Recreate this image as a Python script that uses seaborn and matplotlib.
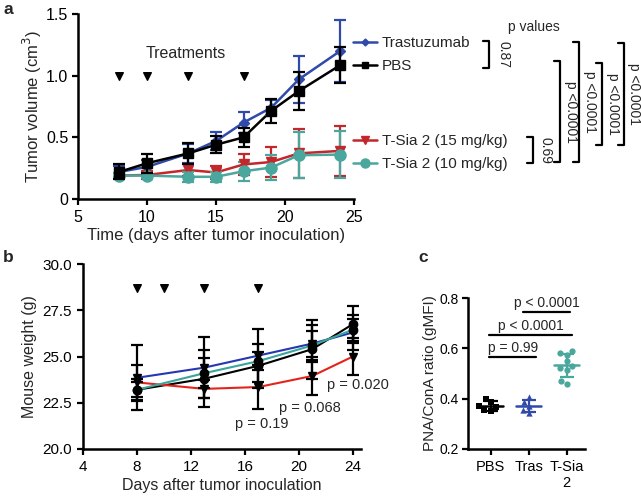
import numpy as np
import pandas as pd
import matplotlib
matplotlib.use("Agg")
import matplotlib.pyplot as plt
import seaborn as sns
from matplotlib.lines import Line2D

# ---------------------------------------------------------------
# data
# ---------------------------------------------------------------
groups = ["Trastuzumab", "PBS", "T-Sia 2 (15 mg/kg)", "T-Sia 2 (10 mg/kg)"]

# panel a: tumor volume (mean +/- error)
days_a = [8, 10, 13, 15, 17, 19, 21, 24]
tras_vol = [0.22, 0.26, 0.37, 0.47, 0.62, 0.74, 0.97, 1.20]
tras_err = [0.05, 0.06, 0.08, 0.075, 0.085, 0.06, 0.19, 0.25]
pbs_vol = [0.22, 0.29, 0.37, 0.44, 0.50, 0.715, 0.875, 1.085]
pbs_err = [0.06, 0.077, 0.085, 0.07, 0.077, 0.095, 0.155, 0.145]
ts15_vol = [0.19, 0.195, 0.235, 0.215, 0.28, 0.30, 0.37, 0.39]
ts15_err = [0.02, 0.03, 0.045, 0.05, 0.085, 0.12, 0.20, 0.20]
ts10_vol = [0.19, 0.19, 0.18, 0.18, 0.225, 0.255, 0.355, 0.36]
ts10_err = [0.02, 0.02, 0.04, 0.04, 0.075, 0.10, 0.185, 0.19]
treat_days = [8, 10, 13, 17]

# panel b: mouse weight (mean +/- SD)
days_b = [8, 13, 17, 21, 24]
tras_wt = [23.85, 24.4, 25.05, 25.7, 26.3]
tras_wsd = [1.75, 1.65, 1.45, 1.0, 0.95]
pbs_wt = [23.2, 23.8, 24.5, 25.4, 26.75]
pbs_wsd = [0.4, 1.55, 1.2, 1.6, 1.0]
ts15_wt = [23.6, 23.25, 23.35, 23.95, 25.0]
ts15_wsd = [0.95, 0.5, 1.2, 1.05, 0.98]
ts10_wt = [23.2, 24.1, 24.75, 25.6, 26.45]
ts10_wsd = [0.6, 0.8, 0.5, 0.8, 0.6]
pvals_b = ["p = 0.19", "p = 0.068", "p = 0.020"]

# panel c: PNA/ConA ratio per mouse
cats_c = ["PBS", "Tras", "T-Sia\n2"]
pbs_ratio = [0.40, 0.385, 0.37, 0.365, 0.355, 0.35]
tras_ratio = [0.405, 0.385, 0.37, 0.355, 0.345]
tsia_ratio = [0.59, 0.58, 0.575, 0.55, 0.53, 0.52, 0.515, 0.47, 0.46]

# colours
col_a = ["#2f4aa8", "black", "#c3262b", "#4aa79d"]
col_b = ["#2638b0", "black", "#e3241d", "#3aa59c"]
mk_a = ["D", "s", "v", "o"]
ms_a = [5, 6.5, 7, 8]

sns.set_style("ticks")
plt.rcParams["font.family"] = ["Liberation Sans", "DejaVu Sans"]
plt.rcParams["axes.linewidth"] = 1.8
plt.rcParams["xtick.major.width"] = 1.6
plt.rcParams["ytick.major.width"] = 1.6
plt.rcParams["xtick.major.size"] = 4.5
plt.rcParams["ytick.major.size"] = 4.5
plt.rcParams["xtick.color"] = "black"
plt.rcParams["ytick.color"] = "black"
plt.rcParams["axes.edgecolor"] = "black"

W, H = 641, 501
fig = plt.figure(figsize=(W / 100, H / 100), dpi=100)


def px_axes(l, t, r, b):
    return fig.add_axes([l / W, 1 - b / H, (r - l) / W, (b - t) / H])


def fx(px):
    return px / W


def fy(py):
    return 1 - py / H


ax_a = px_axes(78, 14, 354, 199)
ax_b = px_axes(83, 264, 361, 449)
ax_c = px_axes(468, 298, 585, 449)

# ---------------------------------------------------------------
# panel a
# ---------------------------------------------------------------
vols = [tras_vol, pbs_vol, ts15_vol, ts10_vol]
errs = [tras_err, pbs_err, ts15_err, ts10_err]
df_a = pd.DataFrame({
    "day": days_a * 4,
    "vol": sum(vols, []),
    "group": sum([[g] * len(days_a) for g in groups], []),
})
sns.lineplot(data=df_a, x="day", y="vol", hue="group", palette=col_a,
             linewidth=1.8, legend=False, ax=ax_a, zorder=2)
for i, g in enumerate(groups):
    ax_a.errorbar(days_a, vols[i], yerr=errs[i], fmt=mk_a[i], ms=ms_a[i],
                  color=col_a[i], ecolor=col_a[i], elinewidth=1.6,
                  capsize=4, capthick=1.6, zorder=3 + (i == 1))
ax_a.scatter(treat_days, [1.0] * len(treat_days), marker="v", s=30,
             color="black", zorder=5)
ax_a.text(12.8, 1.18, "Treatments", ha="center", va="center", fontsize=11.5)
ax_a.set_xlim(5, 25)
ax_a.set_ylim(0, 1.5)
ax_a.set_xticks([5, 10, 15, 20, 25])
ax_a.set_yticks([0, 0.5, 1.0, 1.5])
ax_a.set_yticklabels(["0", "0.5", "1.0", "1.5"])
ax_a.tick_params(labelsize=11.5)
ax_a.tick_params(axis="y", pad=2.5)
ax_a.set_xlabel("Time (days after tumor inoculation)", fontsize=12, labelpad=2)
ax_a.set_ylabel("Tumor volume (cm$^3$)", fontsize=12)
ax_a.yaxis.set_label_coords(-0.125, 0.5)
sns.despine(ax=ax_a)

handles = [Line2D([], [], color=col_a[i], marker=mk_a[i], ms=ms_a[i] - 1.5,
                  lw=1.8) for i in range(4)]
leg_kw = dict(bbox_transform=fig.transFigure, loc="upper left",
              frameon=False, fontsize=11, handlelength=1.6,
              handletextpad=0.3, borderpad=0, borderaxespad=0,
              labelspacing=0.6)
leg1 = ax_a.legend(handles[:2], groups[:2],
                   bbox_to_anchor=(fx(353), fy(36)), **leg_kw)
ax_a.add_artist(leg1)
ax_a.legend(handles[2:], groups[2:],
            bbox_to_anchor=(fx(353), fy(134)), **leg_kw)

# p value brackets (pixel positions)
brackets_a = [(489, 41, 68, "0.87", 503),
              (533, 137, 163, "0.69", 545),
              (560, 61, 162, "p <0.0001", 571),
              (579, 42, 162, "p <0.0001", 590),
              (602, 63, 145, "p <0.0001", 613),
              (624, 43, 145, "p <0.0001", 634)]
for x, y0, y1, lab, tx in brackets_a:
    fig.add_artist(Line2D([fx(x - 6), fx(x), fx(x), fx(x - 6)],
                          [fy(y0), fy(y0), fy(y1), fy(y1)],
                          color="black", lw=1.6))
    fig.text(fx(tx), fy((y0 + y1) / 2), lab, rotation=270, ha="center",
             va="center", fontsize=10)
fig.text(fx(534), fy(27), "p values", ha="center", va="center", fontsize=10)

# ---------------------------------------------------------------
# panel b
# ---------------------------------------------------------------
wts = [tras_wt, pbs_wt, ts15_wt, ts10_wt]
wsds = [tras_wsd, pbs_wsd, ts15_wsd, ts10_wsd]
mk_b = ["v", "o", "v", "o"]
df_b = pd.DataFrame({
    "day": days_b * 4,
    "wt": sum(wts, []),
    "group": sum([[g] * len(days_b) for g in groups], []),
})
sns.lineplot(data=df_b, x="day", y="wt", hue="group", palette=col_b,
             linewidth=1.5, legend=False, ax=ax_b, zorder=2)
for i in range(4):
    ax_b.errorbar(days_b, wts[i], yerr=wsds[i], fmt=mk_b[i], ms=6,
                  color="black", elinewidth=1.6, capsize=4, capthick=1.6,
                  zorder=3)
ax_b.scatter(treat_days, [28.7] * len(treat_days), marker="v", s=30,
             color="black", zorder=5)
for x, y, lab in zip([15.3, 18.5, 22.1], [21.35, 22.2, 23.45], pvals_b):
    ax_b.text(x, y, lab, ha="left", va="center", fontsize=10.5)
ax_b.set_xlim(4, 24.6)
ax_b.set_ylim(20, 30)
ax_b.set_xticks([4, 8, 12, 16, 20, 24])
ax_b.set_yticks([20, 22.5, 25, 27.5, 30])
ax_b.set_yticklabels(["20.0", "22.5", "25.0", "27.5", "30.0"])
ax_b.tick_params(labelsize=11)
ax_b.set_xlabel("Days after tumor inoculation", fontsize=11.5, labelpad=3)
ax_b.set_ylabel("Mouse weight (g)", fontsize=11.5)
ax_b.yaxis.set_label_coords(-0.165, 0.5)
sns.despine(ax=ax_b)

# ---------------------------------------------------------------
# panel c
# ---------------------------------------------------------------
ratios = [pbs_ratio, tras_ratio, tsia_ratio]
col_c = ["black", "#2f4aa8", "#4aa79d"]
mk_c = ["s", "^", "o"]
for i, cat in enumerate(cats_c):
    sns.swarmplot(x=[cat] * len(ratios[i]), y=ratios[i], order=cats_c,
                  color=col_c[i], marker=mk_c[i], size=4.5, ax=ax_c, zorder=2)
    m = np.mean(ratios[i])
    sd = np.std(ratios[i], ddof=1)
    ax_c.errorbar([i], [m], yerr=[sd], fmt="none", ecolor=col_c[i],
                  elinewidth=1.6, capsize=5, capthick=1.6, zorder=3)
    ax_c.plot([i - 0.33, i + 0.33], [m, m], color=col_c[i], lw=1.8, zorder=3)

brackets_c = [(-0.04, 1.2, 0.565, "p = 0.99"),
              (-0.04, 2.13, 0.652, "p < 0.0001"),
              (0.85, 2.08, 0.745, "p < 0.0001")]
for x0, x1, y, lab in brackets_c:
    ax_c.plot([x0, x1], [y, y], color="black", lw=1.6, clip_on=False)
    ax_c.text((x0 + x1) / 2, y + 0.008, lab, ha="center", va="bottom",
              fontsize=10)
ax_c.set_xlim(-0.6, 2.48)
ax_c.set_ylim(0.2, 0.8)
ax_c.set_yticks([0.2, 0.4, 0.6, 0.8])
ax_c.tick_params(labelsize=10.5)
ax_c.tick_params(axis="y", labelsize=10, pad=2)
ax_c.set_ylabel("PNA/ConA ratio (gMFI)", fontsize=11)
ax_c.yaxis.set_label_coords(-0.265, 0.5)
sns.despine(ax=ax_c)

# panel letters
for lab, x, y in [("a", 8, 9), ("b", 8, 258), ("c", 423, 258)]:
    fig.text(fx(x), fy(y), lab, fontsize=12.5, fontweight="bold",
             ha="center", va="center")

fig.savefig("out.png", dpi=100)
